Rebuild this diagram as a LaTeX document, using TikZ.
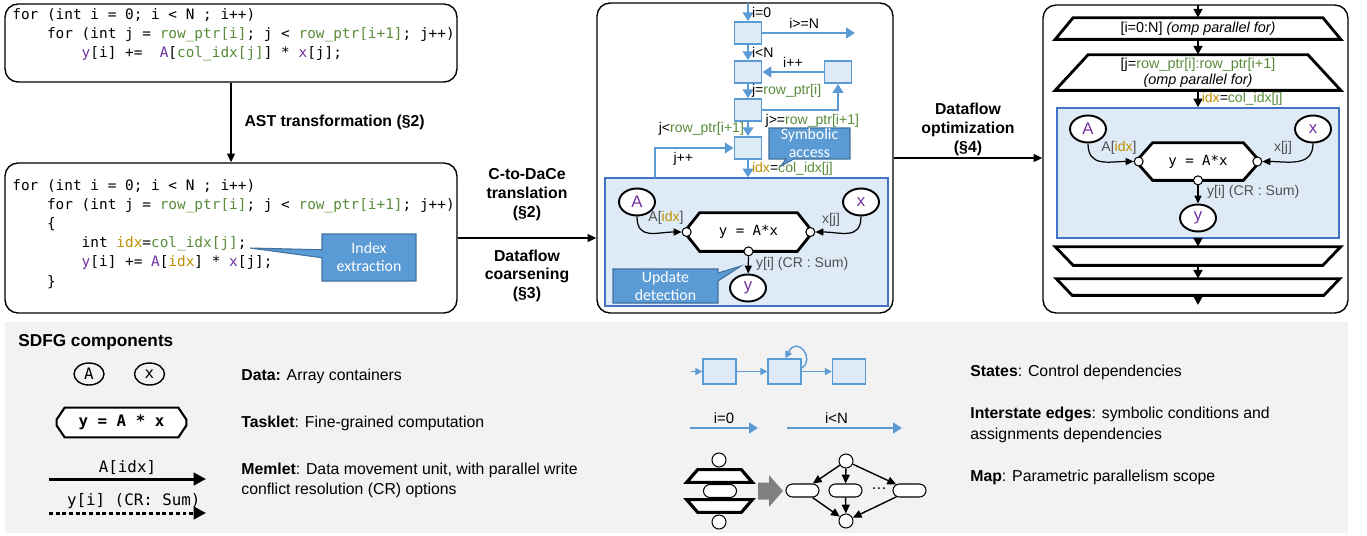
\documentclass[tikz,border=0pt]{standalone}
\usepackage{fontspec}
\setmainfont{Liberation Sans}
\setmonofont{DejaVu Sans Mono}
\newfontfamily\calfont{Carlito}
\usepackage{tikz}
\usetikzlibrary{arrows.meta,calc,shapes.geometric,shapes.misc,shapes.callouts}

\definecolor{cgreen}{RGB}{88,140,58}
\definecolor{cpurple}{RGB}{112,48,160}
\definecolor{cgold}{RGB}{191,144,0}
\definecolor{stblue}{RGB}{91,155,213}
\definecolor{stfill}{RGB}{222,235,247}
\definecolor{regline}{RGB}{68,114,196}
\definecolor{callline}{RGB}{65,113,156}
\definecolor{leggray}{RGB}{242,242,242}
\definecolor{mlgray}{RGB}{80,80,80}
\definecolor{bigarrow}{RGB}{128,128,128}

\pgfdeclarelayer{back}
\pgfdeclarelayer{mid}
\pgfsetlayers{back,mid,main}

\newcommand{\grn}[1]{\textcolor{cgreen}{#1}}
\newcommand{\pur}[1]{\textcolor{cpurple}{#1}}
\newcommand{\gld}[1]{\textcolor{cgold}{#1}}
\newcommand{\indt}{\phantom{xxxx}}

% outlines drawn round a node
\newcommand{\octo}[3][]{\begin{pgfonlayer}{mid}
  \draw[taskline,#1] ($(#2.north west)+(#3,0)$) -- ($(#2.north east)+(-#3,0)$)
    -- ($(#2.east)+(0,-3)$) -- ($(#2.east)+(0,3)$) -- ($(#2.south east)+(-#3,0)$)
    -- ($(#2.south west)+(#3,0)$) -- ($(#2.west)+(0,3)$) -- ($(#2.west)+(0,-3)$) -- cycle;
  \end{pgfonlayer}}
\newcommand{\trap}[4][]{\begin{pgfonlayer}{mid}
  \draw[mapline,#1] ($(#2.north west)+(#3,0)$) -- ($(#2.north east)+(-#3,0)$)
    -- ($(#2.south east)+(-#4,0)$) -- ($(#2.south west)+(#4,0)$) -- cycle;
  \end{pgfonlayer}}

\tikzstyle{panel}=[draw,line width=0.8pt,rounded corners=0.26cm]
\tikzstyle{code}=[font=\ttfamily\fontsize{8.2}{10.9}\selectfont,align=left,inner sep=0pt,anchor=north west]
\tikzstyle{flow}=[-{Triangle[length=5pt,width=4.5pt]},line width=0.8pt]
\tikzstyle{mapflow}=[-{Triangle[length=5pt,width=5pt]},line width=1.3pt]
\tikzstyle{steplbl}=[font=\bfseries\fontsize{9}{10.8}\selectfont,align=center]
\tikzstyle{sdstate}=[draw=stblue,fill=stfill,line width=1.1pt,minimum width=0.54cm,minimum height=0.44cm,inner sep=0pt]
\tikzstyle{isedge}=[draw=stblue,line width=1.6pt,-{Triangle[length=5pt,width=6pt]}]
\tikzstyle{islbl}=[font=\fontsize{8}{9.6}\selectfont,inner sep=1.5pt]
\tikzstyle{callbox}=[rectangle callout,callout pointer width=0.16cm,fill=stblue,draw=callline,line width=0.6pt,text=white,font=\calfont\fontsize{9}{10.2}\selectfont,align=center,inner sep=0pt]
\tikzstyle{mapreg}=[draw=regline,fill=stfill,line width=0.8pt]
\tikzstyle{data}=[ellipse,draw,line width=1.1pt,fill=white,minimum width=0.72cm,minimum height=0.54cm,inner sep=0pt,text=cpurple,font=\fontsize{9.5}{9.5}\selectfont]
\tikzstyle{tasklet}=[inner sep=0pt,font=\ttfamily\fontsize{8}{9}\selectfont]
\tikzstyle{taskline}=[line width=1.6pt,fill=white]
\tikzstyle{conn}=[circle,draw,fill=white,line width=0.6pt,minimum size=0.18cm,inner sep=0pt]
\tikzstyle{memlet}=[-{Triangle[length=4.5pt,width=4pt]},line width=0.7pt]
\tikzstyle{mlbl}=[font=\fontsize{8}{9.6}\selectfont,text=mlgray,inner sep=1pt]
\tikzstyle{mapbox}=[minimum width=5.7cm,inner sep=0pt,font=\fontsize{8.2}{9}\selectfont,align=center]
\tikzstyle{mapline}=[line width=1.6pt]
\tikzstyle{legbg}=[fill=leggray,minimum width=26.86cm,minimum height=4.22cm]
\tikzstyle{legtxt}=[font=\fontsize{9}{11.5}\selectfont,align=left,anchor=west,inner sep=0pt]
\tikzstyle{ldata}=[ellipse,draw,line width=0.8pt,minimum width=0.6cm,minimum height=0.44cm,inner sep=0pt,font=\ttfamily\fontsize{9}{9}\selectfont]
\tikzstyle{ltask}=[inner sep=0pt,font=\ttfamily\bfseries\fontsize{9}{9}\selectfont,minimum width=2.58cm,minimum height=0.58cm]
\tikzstyle{lmemlet}=[-{Triangle[length=7pt,width=7pt]},line width=1.7pt]
\tikzstyle{mlegend}=[font=\ttfamily\fontsize{9}{9}\selectfont,inner sep=1.5pt]
\tikzstyle{lstate}=[draw=stblue,fill=stfill,line width=0.8pt,minimum width=0.66cm,minimum height=0.5cm,inner sep=0pt]
\tikzstyle{lisedge}=[draw=stblue,line width=0.8pt,-{Triangle[length=4pt,width=4pt]}]
\tikzstyle{lcirc}=[circle,draw,fill=white,line width=0.6pt,minimum size=0.28cm,inner sep=0pt]
\tikzstyle{lpill}=[rounded rectangle,draw,fill=white,line width=0.6pt,minimum width=0.66cm,minimum height=0.26cm,inner sep=0pt]
\tikzstyle{lmapbox}=[minimum width=1.3cm,minimum height=0.24cm,inner sep=0pt]
\tikzstyle{lflow}=[-{Triangle[length=5pt,width=4.5pt]},line width=0.8pt]

\begin{document}
\begin{tikzpicture}[x=0.02cm,y=-0.02cm]
\useasboundingbox (0,0) rectangle (1367,535);

\begin{pgfonlayer}{back}
\node[legbg] (leg) at (676.5,427.5) {};
\node[mapreg,minimum width=5.66cm,minimum height=2.56cm] (mreg) at (746.5,242) {};
\node[mapreg,minimum width=5.64cm,minimum height=2.6cm] (mreg2) at (1198,173) {};
\end{pgfonlayer}

% source code
\node[panel,minimum width=9.04cm,minimum height=1.56cm] (src) at (231,43) {};
\node[code] (srctxt) at (12,8) {for (int i = 0; i < N ; i++)\\
  \indt for (int j = \grn{row\_ptr[i]}; j < \grn{row\_ptr[i+1]}; j++)\\
  \indt\indt \pur{y}[i] +=~ \pur{A}[\grn{col\_idx[j]}] * \pur{x}[j];};

% code after AST pass
\node[panel,minimum width=9.04cm,minimum height=3cm] (cbox) at (231,238) {};
\node[code] (ctxt) at (12,179) {for (int i = 0; i < N ; i++)\\
  \indt for (int j = \grn{row\_ptr[i]}; j < \grn{row\_ptr[i+1]}; j++)\\
  \indt \{\\
  \indt\indt int \gld{idx}=\grn{col\_idx[j]};\\
  \indt\indt \pur{y}[i] += \pur{A}[\gld{idx}] * \pur{x}[j];\\
  \indt \}};
\coordinate (idxtip) at (250,248);
\node[callbox,minimum width=1.88cm,minimum height=0.94cm,callout absolute pointer={(idxtip)}] (idxc) at (369,257.5) {Index\\extraction};

\draw[flow] (src) -- node[steplbl,right=0.14cm]{AST transformation (§2)} (cbox);

% SDFG after translation
\node[panel,minimum width=5.92cm,minimum height=6.2cm] (mid) at (745,158) {};
\draw[flow] (cbox.east) -- (cbox.east -| mid.west)
  node[midway,above=0.22cm,steplbl]{C-to-DaCe\\translation\\(§2)}
  node[midway,below=0.1cm,steplbl]{Dataflow\\coarsening\\(§3)};

\node[sdstate] (s1) at (748,33) {};
\node[sdstate] (s2) at (748,72) {};
\node[sdstate] (s3) at (838,72) {};
\node[sdstate] (s4) at (748,110) {};
\node[sdstate] (s5) at (748,148) {};
\coordinate (itop) at (748,3);
\coordinate (iend) at (855,33);
\coordinate (jinc) at (655,178);

\draw[isedge] (itop) -- node[islbl,right]{i=0} (s1);
\draw[isedge] (s1) -- node[islbl,above,pos=0.45]{i>=N} (iend);
\draw[isedge] (s1) -- node[islbl,right]{i<N} (s2);
\draw[isedge] (s3) -- node[islbl,above]{i++} (s2);
\draw[isedge] (s2) -- node[islbl,right]{j=\grn{row\_ptr[i]}} (s4);
\draw[isedge] (s4) -| node[islbl,below,pos=0.33]{j>=\grn{row\_ptr[i+1]}} (s3);
\draw[isedge] (s4) -- node[islbl,left]{j<\grn{row\_ptr[i+1]}} (s5);
\draw[isedge] (jinc) |- node[islbl,below,pos=0.68]{j++} (s5);
\draw[isedge] (s5) -- node[islbl,right]{\gld{idx}=\grn{col\_idx[j]}} (s5 |- mreg.north);

\coordinate (symtip) at (781,166);
\node[callbox,minimum width=1.62cm,minimum height=0.62cm,callout absolute pointer={(symtip)}] (symc) at (809.5,143.5) {Symbolic\\access};

\node[data] (dA) at (637,202) {A};
\node[data] (dx) at (861,202) {x};
\node[tasklet,minimum width=2.46cm,minimum height=0.76cm] (tk1) at (748.5,232) {y = A*x};
\octo{tk1}{13}
\node[conn] (c1l) at (tk1.west) {};
\node[conn] (c1r) at (tk1.east) {};
\node[conn] (c1b) at (tk1.south) {};
\node[data] (dy) at (748,288) {y};
\draw[memlet] (dA.south) .. controls +(0,24) and +(-25,0) .. (c1l.west);
\draw[memlet] (dx.south) .. controls +(0,24) and +(25,0) .. (c1r.east);
\draw[memlet] (c1b) -- (dy);
\node[mlbl] (lA1) at (666,218) {A[\gld{idx}]};
\node[mlbl] (lx1) at (831,220) {x[j]};
\node[mlbl,anchor=west] (ly1) at (754,264) {y[i] (CR : Sum)};

\coordinate (updtip) at (741,266);
\node[callbox,minimum width=2.1cm,minimum height=0.68cm,callout absolute pointer={(updtip)}] (updc) at (665.5,286) {Update\\detection};

% optimized SDFG
\node[panel,minimum width=6.1cm,minimum height=6.16cm] (rp) at (1195.5,159) {};
\draw[flow] (mid.east) -- (mid.east -| rp.west)
  node[midway,above,steplbl,inner sep=1pt]{Dataflow\\optimization\\(§4)};

\coordinate (rtop) at (1198,5);
\node[mapbox,minimum height=0.42cm] (me1) at (1198,28.5) {[i=0:N] \textit{(omp parallel for)}};
\trap{me1}{18}{0}
\node[mapbox,minimum height=0.7cm] (me2) at (1198,72.5) {[j=\grn{row\_ptr[i]:row\_ptr[i+1]}\\\textit{(omp parallel for)}};
\trap{me2}{33}{0}
\node[data] (dA2) at (1088,129) {A};
\node[data] (dx2) at (1313,129) {x};
\node[tasklet,minimum width=2.36cm,minimum height=0.74cm] (tk2) at (1198,161.5) {y = A*x};
\octo{tk2}{14}
\node[conn] (c2l) at (tk2.west) {};
\node[conn] (c2r) at (tk2.east) {};
\node[conn] (c2b) at (tk2.south) {};
\node[data] (dy2) at (1198,218) {y};
\draw[memlet] (dA2.south) .. controls +(0,24) and +(-25,0) .. (c2l.west);
\draw[memlet] (dx2.south) .. controls +(0,24) and +(25,0) .. (c2r.east);
\draw[memlet] (c2b) -- (dy2);
\node[mlbl] (lA2) at (1119,148) {A[\gld{idx}]};
\node[mlbl] (lx2) at (1283,148) {x[j]};
\node[mlbl,anchor=west] (ly2) at (1205,192) {y[i] (CR : Sum)};
\node[mapbox,minimum height=0.36cm] (mx1) at (1198,256) {};
\trap{mx1}{0}{18}
\node[mapbox,minimum width=5.66cm,minimum height=0.32cm] (mx2) at (1198,287) {};
\trap{mx2}{0}{16}
\coordinate (rbot) at (1198,305);

\draw[mapflow] (rtop) -- (me1.north);
\draw[mapflow] (me1.south) -- (me2.north);
\draw[mapflow] (me2.south) -- node[islbl,right]{\gld{idx}=\grn{col\_idx[j]}} (mreg2.north);
\draw[mapflow] (mreg2.south) -- (mx1.north);
\draw[mapflow] (mx1.south) -- (mx2.north);
\draw[mapflow] (mx2.south) -- (rbot);

% legend
\node[font=\bfseries\fontsize{9.8}{11}\selectfont,anchor=west,inner sep=0pt] (legtitle) at (18,342) {SDFG components};
\node[ldata] (lA) at (89,374) {A};
\node[ldata] (lx) at (149.5,374) {x};
\node[legtxt] (tdata) at (241,376) {\textbf{Data:} Array containers};
\node[ltask] (ltk) at (121.5,422.5) {y = A * x};
\octo[line width=1.2pt]{ltk}{8}
\node[legtxt] (ttask) at (241,423) {\textbf{Tasklet}: Fine-grained computation};
\coordinate (m1a) at (49,479);
\coordinate (m1b) at (206,479);
\draw[lmemlet] (m1a) -- node[mlegend,above]{A[idx]} (m1b);
\coordinate (m2a) at (49,513);
\coordinate (m2b) at (206,513);
\draw[lmemlet,dash pattern=on 2.2pt off 1.6pt] (m2a) -- node[mlegend,above,pos=0.54]{y[i] (CR: Sum)} (m2b);
\node[legtxt] (tmem) at (241,480.5) {\textbf{Memlet}: Data movement unit, with parallel write\\conflict resolution (CR) options};

\node[lstate] (ls1) at (719.5,371.5) {};
\node[lstate] (ls2) at (784.5,371.5) {};
\node[lstate] (ls3) at (849,371.5) {};
\coordinate (lsin) at (691,371.5);
\draw[lisedge] (lsin) -- (ls1);
\draw[lisedge] (ls1) -- (ls2);
\draw[lisedge] (ls2) -- (ls3);
\draw[lisedge] ($(ls2.east)+(0,-3.5)$) .. controls +(14,-8) and +(12,-24) .. ($(ls2.north)+(1,0)$);
\node[legtxt] (tstate) at (970,372) {\textbf{States}: Control dependencies};

\coordinate (ie1a) at (690,428);
\coordinate (ie1b) at (758,428);
\coordinate (ie2a) at (787,428);
\coordinate (ie2b) at (902,428);
\draw[isedge] (ie1a) -- node[islbl,above,font=\fontsize{8.5}{9}\selectfont]{i=0} (ie1b);
\draw[isedge] (ie2a) -- node[islbl,above,pos=0.43,font=\fontsize{8.5}{9}\selectfont]{i<N} (ie2b);
\node[legtxt] (tise) at (970,425) {\textbf{Interstate edges}: symbolic conditions and\\assignments dependencies};

\node[lcirc] (lmt) at (719,460) {};
\node[lmapbox] (lme) at (719.5,476) {};
\trap[fill=white,line width=1.8pt]{lme}{11}{0}
\node[lpill] (lmp) at (720,491) {};
\node[lmapbox] (lmx) at (719.5,506) {};
\trap[fill=white,line width=1.8pt]{lmx}{0}{11}
\node[lcirc] (lmb) at (719,522) {};
% expansion arrow
\fill[bigarrow] (758,482.5) -- (769,482.5) -- (769,475) -- (783,491) -- (769,507) -- (769,499.5) -- (758,499.5) -- cycle;
\node[lcirc] (gt) at (846,461) {};
\node[lpill] (gp1) at (802.5,490.5) {};
\node[lpill] (gp2) at (845.5,490.5) {};
\node[lpill] (gp3) at (909.5,490.5) {};
\node[font=\fontsize{9}{9}\selectfont] (gdots) at (879,489) {\dots};
\node[lcirc] (gb) at (846,521) {};
\draw[lflow] (gt) -- (gp1);
\draw[lflow] (gt) -- (gp2);
\draw[lflow] (gt) -- (gp3);
\draw[lflow] (gp1) -- (gb);
\draw[lflow] (gp2) -- (gb);
\draw[lflow] (gp3) -- (gb);
\node[legtxt] (tmap) at (970,477) {\textbf{Map}: Parametric parallelism scope};
\end{tikzpicture}
\end{document}
